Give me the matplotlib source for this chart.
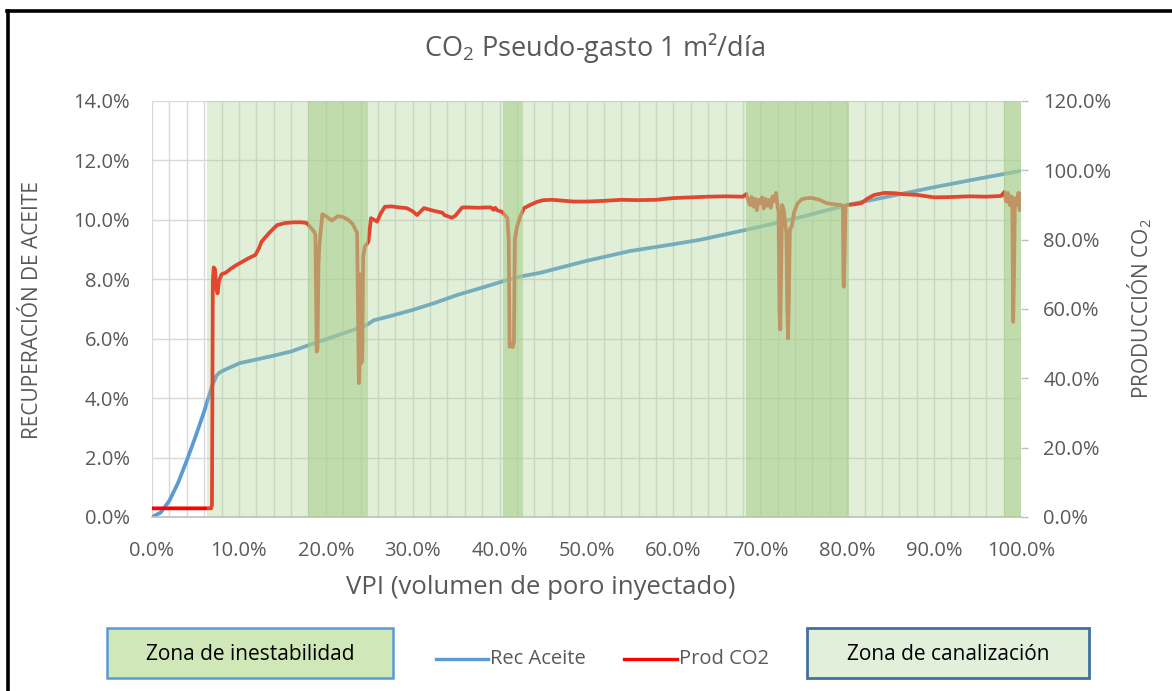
import numpy as np
import matplotlib.pyplot as plt
from matplotlib.ticker import MultipleLocator, FuncFormatter
from matplotlib.lines import Line2D
from matplotlib.patches import Rectangle

plt.rcParams['font.family'] = ['Open Sans', 'DejaVu Sans']
plt.rcParams['mathtext.fontset'] = 'custom'
plt.rcParams['mathtext.rm'] = 'Open Sans'

# Recuperacion de aceite (%) vs VPI (%)
vpi_rec = [0, 1, 2, 3, 4, 5, 6,
           6.9, 7.4, 7.8, 8.5, 10.1,
           12, 14, 16, 18, 20, 22, 24,
           24.7, 25.5, 27.4, 30, 32.5, 35.1, 38,
           40.9, 42.5, 44.7, 50, 55, 60, 63.1,
           70, 75, 80, 85, 90, 95, 100]
rec_aceite = [0.0, 0.15, 0.55, 1.15, 1.9, 2.7, 3.55,
              4.4, 4.75, 4.87, 4.97, 5.18,
              5.3, 5.43, 5.57, 5.78, 5.98, 6.18, 6.38,
              6.46, 6.62, 6.76, 6.97, 7.2, 7.47, 7.72,
              7.98, 8.1, 8.22, 8.62, 8.95, 9.18, 9.33,
              9.77, 10.12, 10.5, 10.8, 11.1, 11.38, 11.65]

# Produccion de CO2 (%) vs VPI (%)
vpi_prod = [0.0, 6.8, 6.9, 7.0, 7.1, 7.25, 7.4, 7.55, 7.7, 8.0,
            8.5, 9.0, 9.6, 10.1, 11.0, 11.9, 12.3, 12.6, 13.5, 14.4,
            15.3, 16.3, 17.2, 17.8, 18.2, 18.6, 18.8, 18.9, 18.95, 19.05,
            19.15, 19.25, 19.6, 20.0, 20.7, 21.4, 22.0, 22.6, 23.1, 23.4,
            23.6, 23.7, 23.8, 23.9, 23.95, 24.0, 24.1, 24.2, 24.3, 24.5,
            24.9, 25.2, 25.5, 25.9, 26.3, 26.8, 27.5, 28.5, 29.3, 30.0,
            30.5, 31.3, 32.0, 32.8, 33.4, 33.7, 34.0, 34.5, 34.9, 35.7,
            36.5, 37.5, 38.5, 39.0, 39.3, 39.5, 39.7, 40.3, 40.9, 41.05,
            41.15, 41.3, 41.5, 41.65, 41.75, 42.0, 42.4, 42.8, 43.5, 44.3,
            45.0, 46.0, 47.0, 48.5, 50.0, 52.0, 54.0, 56.0, 58.0, 60.0,
            62.0, 64.0, 66.0, 68.0, 68.4, 68.6, 68.8, 69.0, 69.2, 69.4,
            69.6, 69.8, 70.0, 70.2, 70.4, 70.6, 70.8, 71.0, 71.2, 71.4,
            71.6, 71.8, 72.0, 72.1, 72.2, 72.3, 72.4, 72.5, 72.7, 72.9,
            73.0, 73.1, 73.2, 73.3, 73.4, 73.6, 73.9, 74.3, 74.8, 75.4,
            76.0, 76.8, 77.3, 77.7, 78.5, 79.3, 79.5, 79.55, 79.6, 79.7,
            79.8, 80.0, 80.8, 81.6, 82.3, 83.1, 84.3, 85.5, 86.5, 88.1,
            90.0, 92.0, 94.0, 96.0, 97.7, 98.1, 98.3, 98.5, 98.7, 98.9,
            99.0, 99.1, 99.2, 99.3, 99.5, 99.7, 99.85, 99.9, 100.0]
prod_co2 = [2.5, 2.5, 3.5, 68.0, 72.0, 71.5, 66.0, 64.5, 68.0, 70.0,
            70.5, 71.5, 72.5, 73.2, 74.5, 75.6, 77.5, 79.4, 82.0, 84.2,
            84.8, 85.0, 85.0, 84.8, 83.7, 82.5, 81.5, 60.0, 47.7, 48.5,
            72.0, 78.0, 87.4, 86.8, 85.5, 86.8, 86.5, 85.7, 84.5, 83.0,
            82.0, 60.0, 38.6, 45.0, 70.0, 60.0, 44.4, 46.0, 75.0, 78.0,
            79.4, 86.2, 85.8, 85.2, 87.5, 89.5, 89.6, 89.3, 89.1, 88.2,
            87.1, 89.1, 88.6, 88.1, 87.8, 87.0, 86.8, 86.3, 86.9, 89.3,
            89.3, 89.2, 89.3, 89.3, 88.6, 89.2, 88.5, 88.0, 86.2, 80.0,
            49.1, 50.0, 49.0, 50.5, 80.0, 83.7, 86.8, 89.1, 90.0, 90.9,
            91.4, 91.5, 91.3, 91.0, 91.0, 91.2, 91.5, 91.4, 91.5, 92.0,
            92.2, 92.4, 92.5, 92.4, 93.2, 91.5, 90.0, 92.3, 89.5, 91.8,
            88.5, 91.5, 90.5, 92.2, 89.0, 91.8, 89.8, 91.5, 89.2, 92.5,
            91.0, 93.5, 89.5, 88.0, 60.0, 54.1, 70.0, 90.0, 88.6, 84.0,
            81.8, 60.0, 51.5, 65.0, 83.0, 83.7, 88.0, 90.5, 91.7, 92.0,
            92.0, 91.5, 90.9, 90.5, 90.2, 90.0, 89.5, 70.0, 66.4, 75.0,
            89.8, 90.0, 90.2, 90.5, 91.8, 92.9, 93.5, 93.4, 93.1, 92.9,
            92.2, 92.3, 92.5, 92.4, 92.6, 93.8, 91.0, 93.5, 90.0, 92.5,
            88.0, 56.3, 70.0, 92.0, 90.0, 93.5, 88.5, 93.2, 89.3]

# zonas sombreadas (VPI %)
zona_canalizacion = (6.3, 100.0)
zonas_inestabilidad = [(18.0, 24.8), (40.4, 42.7), (68.3, 80.2), (98.0, 100.0)]

gris = '#595959'
azul = '#5b9bd5'
rojo = '#ff0000'
verde = '#a9d08e'

W, H = 1172, 691
fig = plt.figure(figsize=(W / 100, H / 100), dpi=100)
ax = fig.add_axes([152 / W, 1 - 517 / H, 869 / W, 416 / H])
ax2 = ax.twinx()

ax.plot(vpi_rec, rec_aceite, color=azul, lw=2.7, solid_capstyle='round', zorder=2)
ax2.plot(vpi_prod, prod_co2, color=rojo, lw=2.7, solid_joinstyle='round', zorder=2)

# zonas encima de las curvas, semitransparentes
ax2.axvspan(*zona_canalizacion, color=verde, alpha=0.34, lw=0, zorder=3)
for x0, x1 in zonas_inestabilidad:
    ax2.axvspan(x0, x1, color=verde, alpha=0.58, lw=0, zorder=4)

pct = FuncFormatter(lambda v, p: f'{v:.1f}%')
ax.set_xlim(0, 100)
ax.set_ylim(0, 14)
ax2.set_ylim(0, 120)
ax.xaxis.set_major_locator(MultipleLocator(10))
ax.xaxis.set_minor_locator(MultipleLocator(2))
ax.yaxis.set_major_locator(MultipleLocator(2))
ax2.yaxis.set_major_locator(MultipleLocator(20))
ax.xaxis.set_major_formatter(pct)
ax.yaxis.set_major_formatter(pct)
ax2.yaxis.set_major_formatter(pct)

ax.grid(True, which='both', color='#d9d9d9', lw=1.0, zorder=0)
ax.set_axisbelow(True)

for a in (ax, ax2):
    for s in a.spines.values():
        s.set_visible(False)
ax.spines['bottom'].set_visible(True)
ax.spines['bottom'].set_color('#bfbfbf')
ax.spines['bottom'].set_linewidth(1.2)

ax.tick_params(axis='x', which='both', length=0, pad=17, labelsize=14.5, labelcolor=gris)
ax.tick_params(axis='y', length=0, pad=16, labelsize=14.5, labelcolor=gris)
ax2.tick_params(axis='y', length=5, width=1, color='#bfbfbf', direction='out',
                pad=11, labelsize=14.5, labelcolor=gris)

def px(x, y):
    return x / W, 1 - y / H

fig.text(*px(594, 48), 'CO$_2$ Pseudo-gasto 1 m²/día', fontsize=19.5, color=gris,
         ha='center', va='center')
fig.text(*px(541, 588), 'VPI (volumen de poro inyectado)', fontsize=18.5, color=gris,
         ha='center', va='center')
fig.text(*px(33, 310), 'RECUPERACIÓN DE ACEITE', fontsize=15, color=gris,
         ha='center', va='center', rotation=90)
fig.text(*px(1140, 309), 'PRODUCCIÓN CO$_2$', fontsize=15, color=gris,
         ha='center', va='center', rotation=90)

# leyenda
fig.add_artist(Rectangle(px(107, 678), 286 / W, 50 / H, transform=fig.transFigure,
                         facecolor='#d0e8b8', edgecolor=azul, lw=1.8))
fig.text(*px(250, 655), 'Zona de inestabilidad', fontsize=15, color='black',
         ha='center', va='center')
fig.add_artist(Rectangle(px(807, 678), 282 / W, 50 / H, transform=fig.transFigure,
                         facecolor='#e2efda', edgecolor='#41719c', lw=2.0))
fig.text(*px(948, 655), 'Zona de canalización', fontsize=15, color='black',
         ha='center', va='center')
fig.add_artist(Line2D([436 / W, 488 / W], [1 - 659 / H] * 2, transform=fig.transFigure,
                      color=azul, lw=2.4))
fig.text(*px(490, 659), 'Rec Aceite', fontsize=14.5, color=gris, ha='left', va='center')
fig.add_artist(Line2D([624 / W, 677 / W], [1 - 659 / H] * 2, transform=fig.transFigure,
                      color=rojo, lw=2.4))
fig.text(*px(679, 659), 'Prod CO2', fontsize=14.5, color=gris, ha='left', va='center')

# marco exterior
fig.add_artist(Line2D([8 / W, 8 / W], [0, 1 - 10.5 / H], transform=fig.transFigure,
                      color='black', lw=2.6))
fig.add_artist(Line2D([7 / W, 1], [1 - 10.5 / H] * 2, transform=fig.transFigure,
                      color='black', lw=2.6))

fig.savefig('out.png', dpi=100)
